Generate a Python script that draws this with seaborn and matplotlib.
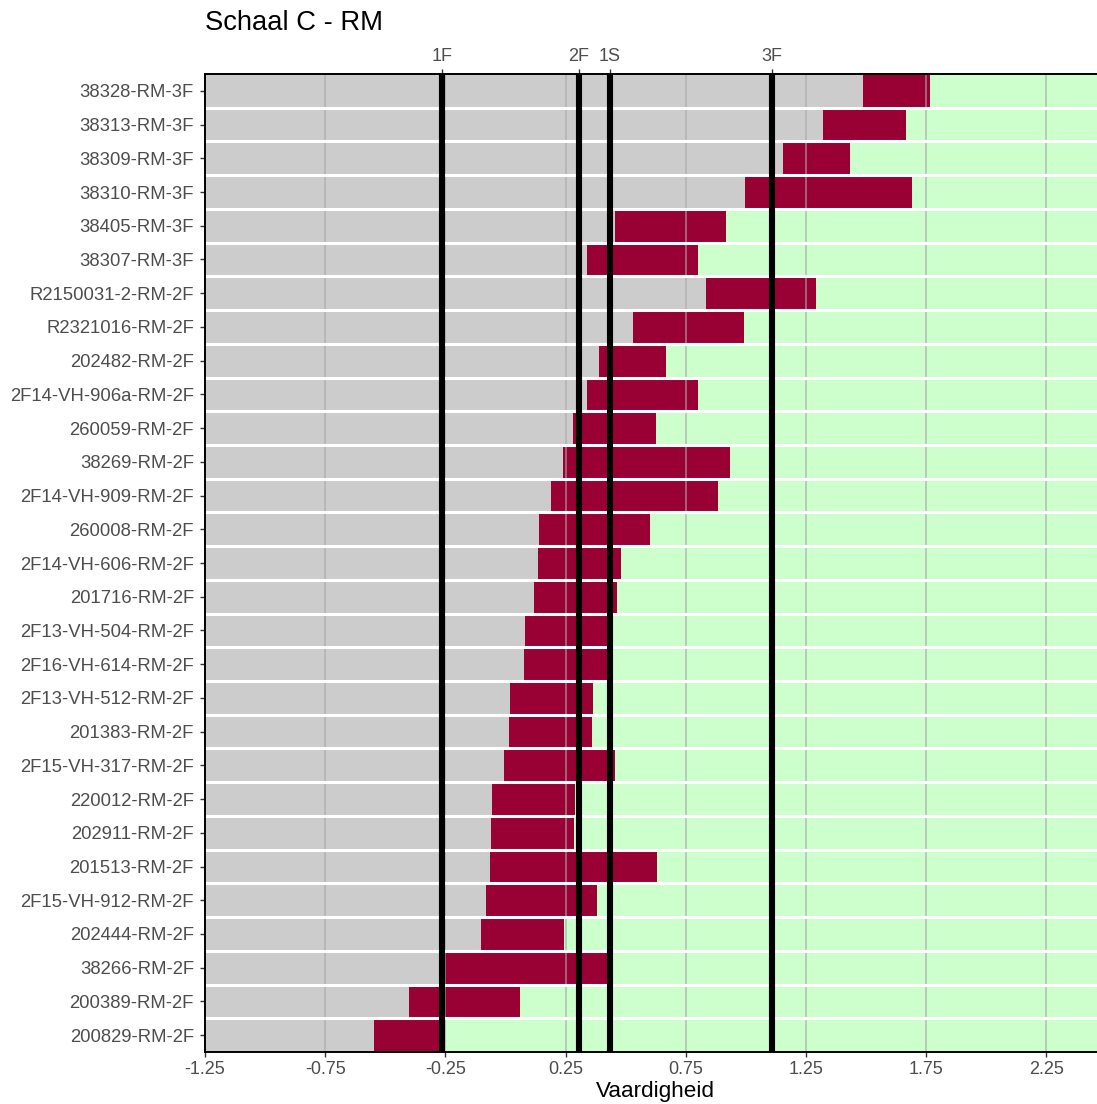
import numpy as np
import pandas as pd
import matplotlib
matplotlib.use("Agg")
import matplotlib.pyplot as plt
import seaborn as sns

# Items (top to bottom) and the lower/upper bound of each item's interval
items = [
    "38328-RM-3F", "38313-RM-3F", "38309-RM-3F", "38310-RM-3F", "38405-RM-3F",
    "38307-RM-3F", "R2150031-2-RM-2F", "R2321016-RM-2F", "202482-RM-2F",
    "2F14-VH-906a-RM-2F", "260059-RM-2F", "38269-RM-2F", "2F14-VH-909-RM-2F",
    "260008-RM-2F", "2F14-VH-606-RM-2F", "201716-RM-2F", "2F13-VH-504-RM-2F",
    "2F16-VH-614-RM-2F", "2F13-VH-512-RM-2F", "201383-RM-2F", "2F15-VH-317-RM-2F",
    "220012-RM-2F", "202911-RM-2F", "201513-RM-2F", "2F15-VH-912-RM-2F",
    "202444-RM-2F", "38266-RM-2F", "200389-RM-2F", "200829-RM-2F",
]
lower = [1.488, 1.319, 1.156, 0.996, 0.455, 0.340, 0.833, 0.530, 0.390, 0.340,
         0.281, 0.241, 0.189, 0.139, 0.135, 0.117, 0.081, 0.077, 0.019, 0.015,
         -0.005, -0.057, -0.060, -0.064, -0.082, -0.102, -0.252, -0.400, -0.546]
upper = [1.766, 1.665, 1.433, 1.690, 0.916, 0.802, 1.292, 0.991, 0.666, 0.802,
         0.626, 0.933, 0.883, 0.600, 0.480, 0.464, 0.440, 0.435, 0.365, 0.359,
         0.455, 0.289, 0.286, 0.629, 0.379, 0.243, 0.421, 0.060, -0.270]

# Reference levels on the ability scale
level_names = ["1F", "2F", "1S", "3F"]
level_values = [-0.265, 0.304, 0.433, 1.107]

x_ticks = [-1.25, -0.75, -0.25, 0.25, 0.75, 1.25, 1.75, 2.25]
x_min, x_max = -1.25, 2.5

GRAY = "#CCCCCC"
RED = "#990033"
GREEN = "#CCFFCC"
TEXT = "#4D4D4D"

sns.set_theme(style="white")
plt.rcParams["font.family"] = ["Liberation Sans", "DejaVu Sans"]

df = pd.DataFrame({"item": items, "lo": lower, "hi": upper})
df["below"] = df["lo"] - x_min
df["interval"] = df["hi"] - df["lo"]
df["above"] = x_max - df["hi"]

W, H = 1097, 1104
fig = plt.figure(figsize=(W / 100, H / 100), dpi=100)
ax = fig.add_axes([205 / W, 52 / H, (1106.5 - 205) / W, (1052 - 74) / H])

common = dict(y="item", orient="y", width=1.0, saturation=1, errorbar=None,
              linewidth=0, ax=ax, order=items)
sns.barplot(data=df, x="below", left=x_min, color=GRAY, **common)
sns.barplot(data=df, x="interval", left=df["lo"].to_numpy(), color=RED, **common)
sns.barplot(data=df, x="above", left=df["hi"].to_numpy(), color=GREEN, **common)

ax.set_xlim(x_min, x_max)
ax.set_ylim(len(items) - 0.5, -0.5)

# vertical grid on top of the bars
ax.set_axisbelow(False)
ax.grid(axis="x", color="#a8a8a8", linewidth=1.1, alpha=0.75)
ax.grid(axis="y", visible=False)

# white separators between rows
ax.hlines(np.arange(0.5, len(items) - 0.5, 1.0), x_min, x_max,
          color="white", linewidth=2.2, zorder=3)

# reference levels
ax.vlines(level_values, -0.5, len(items) - 0.5, color="black",
          linewidth=4.4, zorder=4)

ax.set_xticks(x_ticks)
ax.set_xticklabels([f"{v:.2f}" for v in x_ticks])
ax.tick_params(axis="x", which="major", labelsize=13, labelcolor=TEXT,
               color="#333333", length=3.5, width=1.0, direction="out", pad=3,
               bottom=True, top=False)
ax.tick_params(axis="y", which="major", labelsize=13.3, labelcolor=TEXT,
               color="#333333", length=3.5, width=1.0, direction="out", pad=4.5,
               left=True, right=False)
ax.set_xlabel("")
ax.set_ylabel("")

for side in ["left", "bottom", "top"]:
    ax.spines[side].set_visible(True)
    ax.spines[side].set_color("black")
    ax.spines[side].set_linewidth(1.4)
    ax.spines[side].set_zorder(5)
ax.spines["right"].set_visible(False)

top = ax.secondary_xaxis("top")
top.set_xticks(level_values)
top.set_xticklabels(level_names)
top.tick_params(axis="x", labelsize=13, labelcolor=TEXT, color="#333333",
                length=3.5, width=1.0, pad=3)
top.spines["top"].set_visible(False)

fig.text(205 / W, 1 - 23 / H, "Schaal C - RM", fontsize=19.7, color="black",
         ha="left", va="center")
fig.text((205 + 1106.5) / 2 / W, 1 - 1092 / H, "Vaardigheid", fontsize=16.2,
         color="black", ha="center", va="center")

fig.savefig("out.png", dpi=100)
